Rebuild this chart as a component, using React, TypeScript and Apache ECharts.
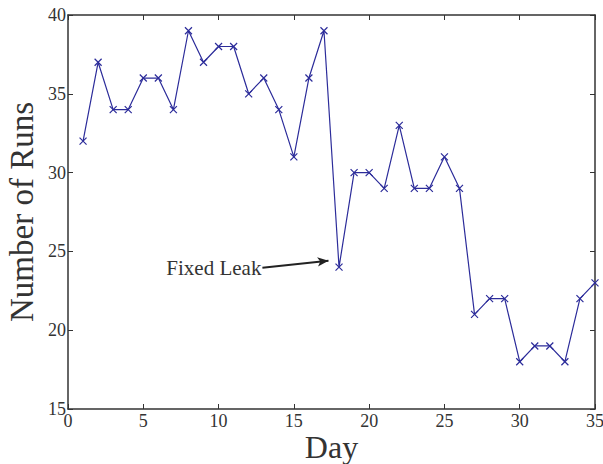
import React, { useEffect, useRef } from "react";
import * as echarts from "echarts";

const days = [1,2,3,4,5,6,7,8,9,10,11,12,13,14,15,16,17,18,19,20,21,22,23,24,25,26,27,28,29,30,31,32,33,34,35];
const runs = [32,37,34,34,36,36,34,39,37,38,38,35,36,34,31,36,39,24,30,30,29,33,29,29,31,29,21,22,22,18,19,19,18,22,23];
const xTicks = { min: 0, max: 35, interval: 5 };
const yTicks = { min: 15, max: 40, interval: 5 };
const arrowFrom = [12.91, 23.97];
const arrowTo = [17.3, 24.41];
const annotationText = "Fixed Leak";

const FONT = "'Liberation Serif', 'DejaVu Serif', serif";
const LINE = "#2c2c9a";
const AX = "#333";

export default function App() {
  const ref = useRef<HTMLDivElement>(null);
  useEffect(() => {
    const chart = echarts.init(ref.current!, null, { renderer: "svg" });
    const tickStyle = { inside: true, length: 5, lineStyle: { color: AX, width: 1 } };
    const axisLine = { show: true, onZero: false, lineStyle: { color: AX, width: 1.5 } };
    chart.setOption({
      animation: false,
      backgroundColor: "#fff",
      grid: { left: 68, top: 15, right: 8, bottom: 55, show: false, containLabel: false, outerBoundsMode: "none" },
      xAxis: [
        {
          type: "value", ...xTicks,
          axisLine, axisTick: tickStyle, splitLine: { show: false },
          axisLabel: { fontFamily: FONT, fontSize: 18, color: AX, margin: 3 },
          name: "Day", nameLocation: "middle", nameGap: 22, nameMoveOverlap: false,
          nameTextStyle: { fontFamily: FONT, fontSize: 32, color: AX },
        },
        {
          type: "value", position: "top", ...xTicks,
          axisLine, axisTick: tickStyle, splitLine: { show: false },
          axisLabel: { show: false },
        },
      ],
      yAxis: [
        {
          type: "value", ...yTicks,
          axisLine, axisTick: tickStyle, splitLine: { show: false },
          axisLabel: { fontFamily: FONT, fontSize: 18, color: AX, margin: 2 },
          name: "Number of Runs", nameLocation: "middle", nameGap: 30, nameMoveOverlap: false,
          nameTextStyle: { fontFamily: FONT, fontSize: 33, color: AX },
        },
        {
          type: "value", position: "right", ...yTicks,
          axisLine, axisTick: tickStyle, splitLine: { show: false },
          axisLabel: { show: false },
        },
      ],
      series: [
        {
          type: "line",
          data: days.map((d, i) => [d, runs[i]]),
          symbol: "path://M0,0L10,10M10,0L0,10",
          symbolSize: 7,
          showAllSymbol: true,
          lineStyle: { color: LINE, width: 1.2 },
          itemStyle: { color: "none", borderColor: LINE, borderWidth: 1.2 },
          markLine: {
            silent: true,
            symbol: ["none", "arrow"],
            symbolSize: [7, 11],
            lineStyle: { color: "#222", width: 2, type: "solid" },
            label: {
              show: true, position: "start", formatter: annotationText,
              fontFamily: FONT, fontSize: 21, color: AX, distance: 1,
            },
            data: [[{ coord: arrowFrom }, { coord: arrowTo }]],
          },
        },
      ],
    });
    return () => chart.dispose();
  }, []);
  return <div ref={ref} style={{ width: 603, height: 464, position: "absolute", left: 0, top: 0 }} />;
}
